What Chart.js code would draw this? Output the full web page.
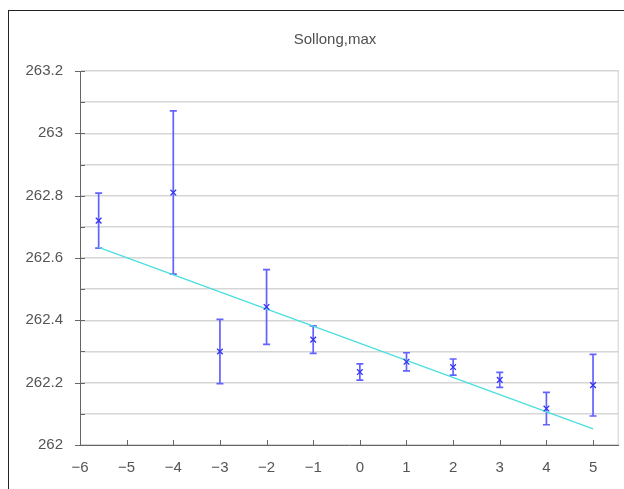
<!DOCTYPE html>
<html>
<head>
<meta charset="utf-8">
<script src="https://cdn.jsdelivr.net/npm/chart.js@4.4.1/dist/chart.umd.min.js"></script>
<style>
html,body{margin:0;padding:0;background:#fff;}
#wrap{position:relative;width:624px;height:489px;overflow:hidden;}
#frame{position:absolute;left:8px;top:10px;right:-2px;bottom:-2px;border-top:1px solid #222;border-left:1px solid #222;pointer-events:none;}
canvas{position:absolute;left:0;top:0;}
</style>
</head>
<body>
<div id="wrap">
<canvas id="chart" width="624" height="489"></canvas>
<div id="frame"></div>
</div>
<script>
// values
const xs = [-5.6, -4, -3, -2, -1, 0, 1, 2, 3, 4, 5];
const means = [262.72, 262.81, 262.30, 262.443, 262.338, 262.234, 262.267, 262.25, 262.209, 262.117, 262.192];
const errs = [0.088, 0.262, 0.103, 0.12, 0.044, 0.026, 0.029, 0.026, 0.024, 0.052, 0.099];
const trendX = [-5.6, 5];
const trendY = [262.634, 262.052];
const title = "Sollong,max";

const FONT = "'Liberation Sans', Arial, sans-serif";
const TEXT = "#555";

const pts = xs.map((x,i)=>({x:x, y:means[i]}));
const trend = trendX.map((x,i)=>({x:x, y:trendY[i]}));

// error bars, drawn through the scales
const errorBars = {
    id:"errorBars",
    beforeDatasetsDraw(chart){
        const ctx = chart.ctx, sx = chart.scales.x, sy = chart.scales.y;
        ctx.save();
        ctx.strokeStyle = "#6262ff";
        ctx.lineWidth = 1.7;
        xs.forEach((x,i)=>{
            const px = sx.getPixelForValue(x);
            const top = sy.getPixelForValue(means[i]+errs[i]);
            const bot = sy.getPixelForValue(means[i]-errs[i]);
            ctx.beginPath();
            ctx.moveTo(px, top); ctx.lineTo(px, bot);
            ctx.moveTo(px-3.5, top); ctx.lineTo(px+3.5, top);
            ctx.moveTo(px-3.5, bot); ctx.lineTo(px+3.5, bot);
            ctx.stroke();
        });
        ctx.restore();
    }
};

// title (sits a bit right of the canvas centre in the original), tick marks, right border
const axisMarks = {
    id:"axisMarks",
    afterDraw(chart){
        const ctx = chart.ctx, a = chart.chartArea, sx = chart.scales.x, sy = chart.scales.y;
        ctx.save();
        ctx.fillStyle = "#505050";
        ctx.font = "15px " + FONT;
        ctx.textAlign = "center";
        ctx.textBaseline = "middle";
        ctx.fillText(title, 335, 40);
        ctx.strokeStyle = "#d0d0d0";
        ctx.lineWidth = 1;
        ctx.beginPath();
        ctx.moveTo(a.right-0.5, a.top); ctx.lineTo(a.right-0.5, a.bottom);
        ctx.stroke();
        ctx.strokeStyle = "#666";
        ctx.beginPath();
        sy.ticks.forEach(t=>{
            const py = Math.round(sy.getPixelForValue(t.value))+0.5;
            const major = Math.round(t.value*10)%2===0;
            ctx.moveTo(a.left-(major?5:0), py); ctx.lineTo(a.left+5, py);
        });
        sx.ticks.forEach(t=>{
            if(t.value<=sx.min) return;
            const px = Math.round(sx.getPixelForValue(t.value))+0.5;
            ctx.moveTo(px, a.bottom); ctx.lineTo(px, a.bottom-5);
        });
        ctx.stroke();
        ctx.restore();
    }
};

new Chart(document.getElementById("chart"),{
    type:"scatter",
    data:{
        datasets:[
            {data:pts, pointStyle:"crossRot", pointRadius:4, pointHoverRadius:4,
             borderColor:"#3535f0", backgroundColor:"#3535f0", borderWidth:1.3, order:1},
            {type:"line", data:trend, showLine:true, pointRadius:0, borderColor:"#4adede",
             borderWidth:1.3, fill:false, order:2}
        ]
    },
    options:{
        responsive:false,
        devicePixelRatio:1,
        animation:false,
        layout:{padding:{left:0, right:3, top:71, bottom:0}},
        plugins:{
            legend:{display:false},
            tooltip:{enabled:false},
            title:{display:false}
        },
        scales:{
            x:{
                type:"linear", min:-6, max:5.55,
                grid:{display:false, drawTicks:false},
                border:{display:true, color:"#666", width:1},
                ticks:{stepSize:1, includeBounds:false, padding:14, color:TEXT,
                       font:{family:FONT, size:15},
                       callback:v=> Number.isInteger(v) ? String(v).replace("-","\u2212") : ""},
                afterFit:s=>{ s.height = 44; }
            },
            y:{
                min:262, max:263.2,
                grid:{color:"#d6d6d6", lineWidth:1.5, drawTicks:false},
                border:{display:true, color:"#666", width:1},
                ticks:{stepSize:0.1, padding:17, color:TEXT,
                       font:{family:FONT, size:15},
                       callback:v=> Math.round(v*10)%2===0 ? String(+v.toFixed(1)) : ""},
                afterFit:s=>{ s.width = 80; }
            }
        }
    },
    plugins:[errorBars, axisMarks]
});
</script>
</body>
</html>
